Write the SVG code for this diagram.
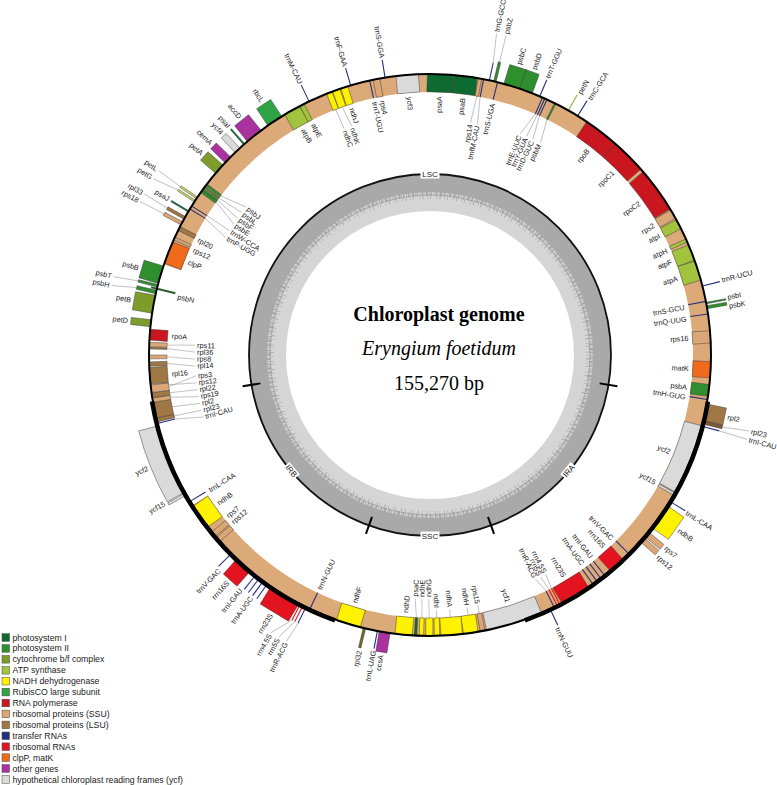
<svg xmlns="http://www.w3.org/2000/svg" width="777" height="785" viewBox="0 0 777 785">
<style>
.G rect,.G path{stroke:#3a3a3a;stroke-width:.45}
.ps1{fill:#0d6b32}.ps2{fill:#2f8f2e}.cyt{fill:#7d9c2c}.atp{fill:#a2c43c}.ndh{fill:#fff200}.rbc{fill:#2ea447}.rpo{fill:#c9161f}.ssu{fill:#dba776}.lsu{fill:#a07846}.trna{fill:#25307f}.rrna{fill:#e3131f}.clp{fill:#f06a1c}.oth{fill:#a9329e}.ycf{fill:#dadada}
.tl line{stroke:#25307f;stroke-width:1.1}
.rl line{stroke:#e3131f;stroke-width:1.1}
.ld line{stroke:#8a8a8a;stroke-width:.5}
.lbl text{font-family:"Liberation Sans",Arial,sans-serif;font-size:7.3px;fill:#1a1a1a;dominant-baseline:central}
.s{text-anchor:start}.e{text-anchor:end}
.rg text{font-family:"Liberation Sans",Arial,sans-serif;font-size:8px;fill:#222;text-anchor:middle;dominant-baseline:central}
.leg text{font-family:"Liberation Sans",Arial,sans-serif;font-size:8.7px;fill:#222;dominant-baseline:central}
.leg rect{stroke:#444;stroke-width:.5}
.ttl{font-family:"Liberation Serif","Times New Roman",serif;font-size:20px;fill:#000;text-anchor:middle}
</style>
<rect width="777" height="785" fill="#fff"/>

<g id="gc-ring" transform="translate(430 355)">
<circle r="162.5" fill="none" stroke="#d5d5d5" stroke-width="37"/>
<circle r="172" fill="none" stroke="#a9a9a9" stroke-width="18"/>
<circle r="161.5" fill="none" stroke="#a9a9a9" stroke-width="5" stroke-dasharray="0.8 1.1 1.6 0.6 0.4 1.5 2.3 0.9 0.6 0.8 1.4 1.9"/>
<circle r="157.5" fill="none" stroke="#ababab" stroke-width="3" stroke-dasharray="0.6 2.8 1 4.1 0.5 2.2 0.8 5"/>
<circle r="160" fill="none" stroke="#8f8f8f" stroke-width="0.5"/>
<circle r="181" fill="none" stroke="#111" stroke-width="1.8"/>
<g stroke="#000" stroke-width="2">
<line y1="-172" y2="-190" transform="rotate(99.5)"/>
<line y1="-172" y2="-190" transform="rotate(160.3)"/>
<line y1="-172" y2="-190" transform="rotate(199.7)"/>
<line y1="-172" y2="-190" transform="rotate(260.5)"/>
</g>
<g class="rg">
<g transform="translate(0 -181)"><rect x="-9.5" y="-4.5" width="19" height="9" fill="#fff"/><text>LSC</text></g>
<g transform="translate(0 181)"><rect x="-9.5" y="-4.5" width="19" height="9" fill="#fff"/><text>SSC</text></g>
<g transform="rotate(129.9) translate(0 -181) rotate(180)"><rect x="-8" y="-4.5" width="16" height="9" fill="#fff"/><text>IRA</text></g>
<g transform="rotate(230.1) translate(0 -181) rotate(180)"><rect x="-8" y="-4.5" width="16" height="9" fill="#fff"/><text>IRB</text></g>
</g>
</g>

<g id="title">
<text class="ttl" x="439" y="321" font-weight="bold">Chloroplast genome</text>
<text class="ttl" x="439" y="355" font-style="italic">Eryngium foetidum</text>
<text class="ttl" x="439" y="390">155,270 bp</text>
</g>

<g id="genes" class="G" transform="translate(430 355)">
<circle id="inner-band" r="272" fill="none" stroke="#dcaa78" stroke-width="18" stroke-dasharray="1465.96 243.07" transform="rotate(198.8)"/>
<!-- inner genes -->
<rect class="ps1" x="-12.83" y="-281" width="25.65" height="18" transform="rotate(2.1)"/>
<rect class="ps1" x="-11.76" y="-281" width="23.51" height="18" transform="rotate(7.275)"/>
<rect class="ssu" x="-1.67" y="-281" width="3.33" height="18" transform="rotate(10.25)"/>
<rect class="ps2" x="-0.75" y="-281" width="1.5" height="18" transform="rotate(26.45)"/>
<path class="rpo" d="M-18.13-280.42A281 281 0 0 1 18.13-280.42L16.97-262.45A263 263 0 0 0-16.97-262.45Z" transform="rotate(37.6)"/>
<path class="rpo" d="M-17.89-280.43A281 281 0 0 1 17.89-280.43L16.74-262.47A263 263 0 0 0-16.74-262.47Z" transform="rotate(44.95)"/>
<path class="rpo" d="M-23.02-280.06A281 281 0 0 1 23.02-280.06L21.55-262.12A263 263 0 0 0-21.55-262.12Z" transform="rotate(54)"/>
<rect class="ssu" x="-4.75" y="-281" width="9.5" height="18" transform="rotate(59.9)"/>
<rect class="atp" x="-4.99" y="-281" width="9.98" height="18" transform="rotate(62.25)"/>
<rect class="atp" x="-1.67" y="-281" width="3.33" height="18" transform="rotate(65.95)"/>
<rect class="atp" x="-8.08" y="-281" width="16.15" height="18" transform="rotate(68.6)"/>
<rect class="atp" x="-9.98" y="-281" width="19.95" height="18" transform="rotate(72.5)"/>
<rect class="ssu" x="-6.18" y="-281" width="12.35" height="18" transform="rotate(86.3)"/>
<rect class="clp" x="-8.08" y="-281" width="16.15" height="18" transform="rotate(93)"/>
<rect class="ps2" x="-5.94" y="-281" width="11.88" height="18" transform="rotate(97.25)"/>
<path class="ycf" d="M-35.71-278.72A281 281 0 0 1 35.71-278.72L33.42-260.87A263 263 0 0 0-33.42-260.87Z" transform="rotate(111.9)"/>
<rect class="ycf" x="-1.2" y="-281" width="2.4" height="18" transform="rotate(119.65)"/>
<rect class="rrna" x="-8.55" y="-281" width="17.1" height="18" transform="rotate(138.4)"/>
<rect class="rrna" x="-15.44" y="-281" width="30.88" height="18" transform="rotate(148.85)"/>
<path class="ycf" d="M-28.88-279.51A281 281 0 0 1 28.88-279.51L27.03-261.61A263 263 0 0 0-27.03-261.61Z" transform="rotate(162.5)"/>
<rect class="ssu" x="-2.38" y="-281" width="4.75" height="18" transform="rotate(169.2)"/>
<rect class="ndh" x="-7.37" y="-281" width="14.73" height="18" transform="rotate(171.65)"/>
<rect class="ndh" x="-10.69" y="-281" width="21.38" height="18" transform="rotate(175.55)"/>
<rect class="ndh" x="-2.62" y="-281" width="5.23" height="18" transform="rotate(178.55)"/>
<rect class="ndh" x="-3.57" y="-281" width="7.13" height="18" transform="rotate(180.15)"/>
<rect class="ndh" x="-2.14" y="-281" width="4.28" height="18" transform="rotate(181.75)"/>
<rect class="ps1" x="-1.2" y="-281" width="2.4" height="18" transform="rotate(182.95)"/>
<rect class="ndh" x="-8.55" y="-281" width="17.1" height="18" transform="rotate(185.4)"/>
<rect class="ndh" x="-12.35" y="-281" width="24.7" height="18" transform="rotate(196.9)"/>
<rect class="ssu" x="-2.62" y="-281" width="5.23" height="18" transform="rotate(228.95)"/>
<rect class="ssu" x="-2.85" y="-281" width="5.7" height="18" transform="rotate(230.4)"/>
<rect class="ndh" x="-12.59" y="-281" width="25.18" height="18" transform="rotate(234.85)"/>
<rect class="lsu" x="-1.9" y="-281" width="3.8" height="18" transform="rotate(256.6)"/>
<rect class="lsu" x="-7.84" y="-281" width="15.68" height="18" transform="rotate(258.65)"/>
<rect class="ssu" x="-2.14" y="-281" width="4.28" height="18" transform="rotate(260.75)"/>
<rect class="lsu" x="-2.62" y="-281" width="5.23" height="18" transform="rotate(261.75)"/>
<rect class="ssu" x="-3.8" y="-281" width="7.6" height="18" transform="rotate(263.1)"/>
<rect class="lsu" x="-8.32" y="-281" width="16.63" height="18" transform="rotate(265.75)"/>
<rect class="lsu" x="-2.14" y="-281" width="4.28" height="18" transform="rotate(268.15)"/>
<rect class="ssu" x="-1.9" y="-281" width="3.8" height="18" transform="rotate(269.6)"/>
<rect class="lsu" x="-0.85" y="-281" width="1.7" height="18" transform="rotate(271.4)"/>
<rect class="ssu" x="-2.14" y="-281" width="4.28" height="18" transform="rotate(272.15)"/>
<rect class="rpo" x="-5.47" y="-281" width="10.93" height="18" transform="rotate(274.15)"/>
<rect class="clp" x="-11.4" y="-281" width="22.8" height="18" transform="rotate(291.4)"/>
<rect class="ssu" x="-1.43" y="-281" width="2.85" height="18" transform="rotate(294.5)"/>
<rect class="lsu" x="-2.14" y="-281" width="4.28" height="18" transform="rotate(296.75)"/>
<rect class="ps2" x="-1.43" y="-281" width="2.85" height="18" transform="rotate(305.6)"/>
<rect class="ps2" x="-0.95" y="-281" width="1.9" height="18" transform="rotate(306.1)"/>
<rect class="ps2" x="-0.72" y="-281" width="1.43" height="18" transform="rotate(306.65)"/>
<rect class="ps2" x="-1.19" y="-281" width="2.38" height="18" transform="rotate(307.25)"/>
<rect class="atp" x="-8.55" y="-281" width="17.1" height="18" transform="rotate(330.6)"/>
<rect class="atp" x="-2.38" y="-281" width="4.75" height="18" transform="rotate(332.9)"/>
<rect class="ndh" x="-2.85" y="-281" width="5.7" height="18" transform="rotate(339)"/>
<rect class="ndh" x="-3.8" y="-281" width="7.6" height="18" transform="rotate(340.5)"/>
<rect class="ndh" x="-3.57" y="-281" width="7.13" height="18" transform="rotate(342.25)"/>
<rect class="ssu" x="-3.33" y="-281" width="6.65" height="18" transform="rotate(349)"/>
<rect class="ycf" x="-11.17" y="-281" width="22.33" height="18" transform="rotate(355.35)"/>
<!-- outer genes -->
<rect class="ps2" x="-1.25" y="-301" width="2.5" height="20" transform="rotate(13.35)"/>
<rect class="ps2" x="-8.89" y="-301" width="17.78" height="20" transform="rotate(17.05)"/>
<rect class="ps2" x="-6.86" y="-301" width="13.72" height="20" transform="rotate(19.95)"/>
<rect class="ps2" x="-0.75" y="-301" width="1.5" height="20" transform="rotate(79.35)"/>
<rect class="ps2" x="-1.5" y="-301" width="3" height="20" transform="rotate(80.2)"/>
<rect class="lsu" x="-8.64" y="-301" width="17.27" height="20" transform="rotate(101.8)"/>
<rect class="lsu" x="-1.78" y="-301" width="3.56" height="20" transform="rotate(103.85)" style="fill:#7e5b36"/>
<rect class="ndh" x="-13.46" y="-301" width="26.92" height="20" transform="rotate(125.15)"/>
<rect class="ssu" x="-3.05" y="-301" width="6.1" height="20" transform="rotate(129.6)"/>
<rect class="ssu" x="-2.8" y="-301" width="5.59" height="20" transform="rotate(131.05)"/>
<rect class="oth" x="-5.59" y="-301" width="11.18" height="20" transform="rotate(189.3)"/>
<rect class="lsu" x="-1.25" y="-301" width="2.5" height="20" transform="rotate(193.5)" style="fill:#6f6a2a"/>
<rect class="rrna" x="-16.5" y="-301" width="33" height="20" transform="rotate(211.15)"/>
<rect class="rrna" x="-9.15" y="-301" width="18.29" height="20" transform="rotate(221.6)"/>
<rect class="ycf" x="-1.25" y="-301" width="2.5" height="20" transform="rotate(240.35)"/>
<path class="ycf" d="M-38.25-298.56A301 301 0 0 1 38.25-298.56L35.71-278.72A281 281 0 0 0-35.71-278.72Z" transform="rotate(248.1)"/>
<rect class="cyt" x="-3.56" y="-301" width="7.11" height="20" transform="rotate(276.5)"/>
<rect class="cyt" x="-9.15" y="-301" width="18.29" height="20" transform="rotate(280.4)"/>
<rect class="ps2" x="-1.78" y="-301" width="3.56" height="20" transform="rotate(282.95)"/>
<rect class="ps2" x="-1.25" y="-301" width="2.5" height="20" transform="rotate(284.25)"/>
<rect class="ps2" x="-9.15" y="-301" width="18.29" height="20" transform="rotate(286.6)"/>
<rect class="ssu" x="-1.78" y="-301" width="3.56" height="20" transform="rotate(297.95)"/>
<rect class="lsu" x="-1.5" y="-301" width="3" height="20" transform="rotate(299.2)"/>
<rect class="ps1" x="-0.75" y="-301" width="1.5" height="20" transform="rotate(300.75)"/>
<rect class="cyt" x="-1" y="-301" width="2" height="20" transform="rotate(303.2)" style="fill:#c5d96a"/>
<rect class="cyt" x="-1" y="-301" width="2" height="20" transform="rotate(304)" style="fill:#c5d96a"/>
<rect class="cyt" x="-5.59" y="-301" width="11.18" height="20" transform="rotate(311.4)"/>
<rect class="oth" x="-4.07" y="-301" width="8.13" height="20" transform="rotate(314)"/>
<rect class="ycf" x="-3.3" y="-301" width="6.6" height="20" transform="rotate(316.75)"/>
<rect class="ps1" x="-0.75" y="-301" width="1.5" height="20" transform="rotate(318.6)"/>
<rect class="oth" x="-8.89" y="-301" width="17.78" height="20" transform="rotate(321.25)"/>
<rect class="rbc" x="-8.38" y="-301" width="16.76" height="20" transform="rotate(326.45)"/>
<line y1="-262" y2="-287" transform="rotate(283.65)" stroke="#2b5e2b" stroke-width="2"/>
<line y1="-281" y2="-299" transform="rotate(29.5)" stroke="#9ab83a" stroke-width="1.2"/>
</g>

<g id="trna" class="tl" transform="translate(430 355)">
<line y1="-263" y2="-281" transform="rotate(11)"/>
<line y1="-263" y2="-281" transform="rotate(13.9)"/>
<line y1="-263" y2="-281" transform="rotate(23.6)"/>
<line y1="-263" y2="-281" transform="rotate(24.1)"/>
<line y1="-263" y2="-281" transform="rotate(24.6)"/>
<line y1="-263" y2="-281" transform="rotate(79)"/>
<line y1="-263" y2="-281" transform="rotate(81.6)"/>
<line y1="-263" y2="-281" transform="rotate(99.1)"/>
<line y1="-263" y2="-281" transform="rotate(135)"/>
<line y1="-263" y2="-281" transform="rotate(141.6)"/>
<line y1="-263" y2="-281" transform="rotate(142.6)"/>
<line y1="-263" y2="-281" transform="rotate(143.6)"/>
<line y1="-263" y2="-281" transform="rotate(144.6)"/>
<line y1="-263" y2="-281" transform="rotate(153.8)"/>
<line y1="-263" y2="-281" transform="rotate(205.3)"/>
<line y1="-263" y2="-281" transform="rotate(238.6)"/>
<line y1="-263" y2="-281" transform="rotate(255.9)"/>
<line y1="-263" y2="-281" transform="rotate(301.3)"/>
<line y1="-263" y2="-281" transform="rotate(302)"/>
<line y1="-263" y2="-281" transform="rotate(347.6)"/>
<line y1="-281" y2="-299" transform="rotate(12.2)"/>
<line y1="-281" y2="-299" transform="rotate(23)"/>
<line y1="-281" y2="-299" transform="rotate(31.7)"/>
<line y1="-281" y2="-299" transform="rotate(75.8)"/>
<line y1="-281" y2="-299" transform="rotate(104.7)"/>
<line y1="-281" y2="-299" transform="rotate(121.4)"/>
<line y1="-281" y2="-299" transform="rotate(154.7)"/>
<line y1="-281" y2="-299" transform="rotate(190.8)"/>
<line y1="-281" y2="-299" transform="rotate(206.2)"/>
<line y1="-281" y2="-299" transform="rotate(215.4)"/>
<line y1="-281" y2="-299" transform="rotate(216.4)"/>
<line y1="-281" y2="-299" transform="rotate(217.4)"/>
<line y1="-281" y2="-299" transform="rotate(218.4)"/>
<line y1="-281" y2="-299" transform="rotate(225)"/>
<line y1="-281" y2="-299" transform="rotate(334.5)"/>
<line y1="-281" y2="-299" transform="rotate(343.6)"/>
<line y1="-281" y2="-299" transform="rotate(350.8)"/>
</g>
<g id="rrna-small" class="rl" transform="translate(430 355)">
<line y1="-263" y2="-281" transform="rotate(152.5)"/>
<line y1="-263" y2="-281" transform="rotate(153.1)"/>
<line y1="-281" y2="-299" transform="rotate(206.9)"/>
<line y1="-281" y2="-299" transform="rotate(207.5)"/>
</g>

<g id="backbone" transform="translate(430 355)" fill="none" stroke="#000">
<circle r="281" stroke-width="2"/>
<circle r="281.8" stroke-width="4.5" stroke-dasharray="299.04 1471.56" transform="rotate(9.5)"/>
<circle r="281.8" stroke-width="4.5" stroke-dasharray="299.04 1471.56" transform="rotate(109.7)"/>
</g>

<g id="connectors" class="ld" transform="translate(430 355)">
<line transform="rotate(10.25)" y1="-263" x2="-1.44" y2="-236"/>
<line transform="rotate(11)" y1="-263" x2="2.47" y2="-236"/>
<line transform="rotate(23.6)" y1="-263" x2="-5.84" y2="-238.9"/>
<line transform="rotate(24.1)" y1="-263" x2="-1.25" y2="-239"/>
<line transform="rotate(24.6)" y1="-263" x2="3.75" y2="-239"/>
<line transform="rotate(26.45)" y1="-263" x2="4.38" y2="-239"/>
<line transform="rotate(152.5)" y1="-263" x2="-1.3" y2="-248"/>
<line transform="rotate(153.1)" y1="-263" x2="1.73" y2="-248"/>
<line transform="rotate(153.8)" y1="-263" x2="4.33" y2="-248"/>
<line transform="rotate(169.2)" y1="-263" y2="-255"/>
<line transform="rotate(171.65)" y1="-263" y2="-255"/>
<line transform="rotate(175.55)" y1="-263" y2="-255"/>
<line transform="rotate(178.55)" y1="-263" y2="-255"/>
<line transform="rotate(182.95)" y1="-263" x2="2.34" y2="-244"/>
<line transform="rotate(181.75)" y1="-263" x2="0.64" y2="-244"/>
<line transform="rotate(180.15)" y1="-263" x2="0.64" y2="-244"/>
<line transform="rotate(307.25)" y1="-263" x2="6.38" y2="-235.9"/>
<line transform="rotate(306.65)" y1="-263" x2="1.85" y2="-236"/>
<line transform="rotate(306.1)" y1="-263" x2="-2.88" y2="-236"/>
<line transform="rotate(305.6)" y1="-263" x2="-7.83" y2="-235.9"/>
<line transform="rotate(302)" y1="-263" x2="-0.82" y2="-236"/>
<line transform="rotate(301.3)" y1="-263" x2="-5.77" y2="-235.9"/>
<line transform="rotate(340.5)" y1="-263" x2="2.53" y2="-242"/>
<line transform="rotate(339)" y1="-263" x2="0.85" y2="-242"/>
<line transform="rotate(272.15)" y1="-263" x2="1.03" y2="-235"/>
<line transform="rotate(271.4)" y1="-263" x2="-2.87" y2="-235"/>
<line transform="rotate(269.6)" y1="-263" x2="-2.46" y2="-235"/>
<line transform="rotate(268.15)" y1="-263" x2="-3.49" y2="-235"/>
<line transform="rotate(263.1)" y1="-263" x2="7.38" y2="-234.9"/>
<line transform="rotate(263.5)" y1="-263" x2="-1.23" y2="-235"/>
<line transform="rotate(261.75)" y1="-263" x2="-1.03" y2="-235"/>
<line transform="rotate(260.75)" y1="-263" x2="-3.9" y2="-235"/>
<line transform="rotate(258.65)" y1="-263" x2="-2.26" y2="-235"/>
<line transform="rotate(256.6)" y1="-263" x2="-0.82" y2="-235"/>
<line transform="rotate(255.9)" y1="-263" x2="-4.92" y2="-234.9"/>
<line transform="rotate(12.2)" y1="-299" x2="-2.86" y2="-328"/>
<line transform="rotate(13.35)" y1="-301" x2="0.29" y2="-328"/>
<line transform="rotate(103.85)" y1="-301" x2="-2.58" y2="-328"/>
<line transform="rotate(104.7)" y1="-299" x2="1.14" y2="-328"/>
<line transform="rotate(207.5)" y1="-299" x2="12.85" y2="-319.7"/>
<line transform="rotate(206.9)" y1="-299" x2="7.26" y2="-319.9"/>
<line transform="rotate(206.2)" y1="-299" x2="2.23" y2="-320"/>
<line transform="rotate(284.25)" y1="-301" x2="-1.99" y2="-326"/>
<line transform="rotate(282.95)" y1="-301" x2="-3.7" y2="-326"/>
<line transform="rotate(297.95)" y1="-301" x2="-0.29" y2="-328"/>
<line transform="rotate(299.2)" y1="-301" x2="1.14" y2="-328"/>
<line transform="rotate(303.2)" y1="-301" x2="-4.01" y2="-328"/>
<line transform="rotate(304)" y1="-301" x2="1.14" y2="-328"/>
</g>

<g id="labels" class="lbl" transform="translate(430 355)">
<text class="s" x="304" transform="rotate(-73)">psbC</text>
<text class="s" x="304" transform="rotate(-70)">psbD</text>
<text class="s" x="304" transform="rotate(11.8)">rpl2</text>
<text class="s" x="304" transform="rotate(35.2)">ndhB</text>
<text class="s" x="304" transform="rotate(39.3)">rps7</text>
<text class="s" x="304" transform="rotate(41.5)">rps12</text>
<text class="s" x="301" transform="rotate(-67)">trnT-GGU</text>
<text class="s" x="301" transform="rotate(-60.2)">petN</text>
<text class="s" x="301" transform="rotate(-58)">trnC-GCA</text>
<text class="s" x="301" transform="rotate(-14.4)">trnR-UCU</text>
<text class="s" x="301" transform="rotate(31.6)">trnL-CAA</text>
<text class="s" x="301" transform="rotate(65)">trnN-GUU</text>
<text class="s" x="303" transform="rotate(-11)">psbI</text>
<text class="s" x="303" transform="rotate(-9.3)">psbK</text>
<text class="s" x="330" transform="rotate(-78.3)">trnG-GCC</text>
<text class="s" x="330" transform="rotate(-76.6)">psbZ</text>
<text class="s" x="330" transform="rotate(13.4)">rpl23</text>
<text class="s" x="330" transform="rotate(14.9)">trnI-CAU</text>

<text class="e" x="259" transform="rotate(-87.9)">psaA</text>
<text class="e" x="259" transform="rotate(-82.7)">psaB</text>
<text class="e" x="259" transform="rotate(-76)">trnS-UGA</text>
<text class="e" x="259" transform="rotate(-52.4)">rpoB</text>
<text class="e" x="259" transform="rotate(-45)">rpoC1</text>
<text class="e" x="259" transform="rotate(-36)">rpoC2</text>
<text class="e" x="259" transform="rotate(-30.1)">rps2</text>
<text class="e" x="259" transform="rotate(-27.5)">atpI</text>
<text class="e" x="259" transform="rotate(-23.8)">atpH</text>
<text class="e" x="259" transform="rotate(-21.1)">atpF</text>
<text class="e" x="259" transform="rotate(-17.2)">atpA</text>
<text class="e" x="259" transform="rotate(-10.6)">trnS-GCU</text>
<text class="e" x="259" transform="rotate(-8)">trnQ-UUG</text>
<text class="e" x="259" transform="rotate(-3.7)">rps16</text>
<text class="e" x="259" transform="rotate(3)">matK</text>
<text class="e" x="259" transform="rotate(7.2)">psbA</text>
<text class="e" x="259" transform="rotate(9.4)">trnH-GUG</text>
<text class="e" x="259" transform="rotate(22)">ycf2</text>
<text class="e" x="259" transform="rotate(29.6)">ycf15</text>
<text class="e" x="259" transform="rotate(45.3)">trnV-GAC</text>
<text class="e" x="259" transform="rotate(47.8)">rrn16S</text>
<text class="e" x="259" transform="rotate(51.4)">trnI-GAU</text>
<text class="e" x="259" transform="rotate(53.9)">trnA-UGC</text>
<text class="e" x="259" transform="rotate(58.8)">rrn23S</text>
<text class="e" x="259" transform="rotate(72.5)">ycf1</text>
<text class="e" x="234" transform="rotate(-80.1)">rps14</text>
<text class="e" x="234" transform="rotate(-78.4)">trnfM-CAU</text>
<text class="e" x="237" transform="rotate(-67.8)">trnE-UUC</text>
<text class="e" x="237" transform="rotate(-66.2)">trnY-GUA</text>
<text class="e" x="237" transform="rotate(-64.5)">trnD-GUC</text>
<text class="e" x="237" transform="rotate(-62.5)">psbM</text>
<text class="e" x="246" transform="rotate(62.2)">rrn4.5S</text>
<text class="e" x="246" transform="rotate(63.5)">rrn5S</text>
<text class="e" x="246" transform="rotate(64.8)">trnR-ACG</text>
<text class="e" x="253" transform="rotate(79.2)">rps15</text>
<text class="e" x="253" transform="rotate(81.65)">ndhH</text>
<text class="e" x="253" transform="rotate(85.55)">ndhA</text>
<text class="e" x="253" transform="rotate(88.55)">ndhI</text>

<text class="e" x="-304" transform="rotate(279.3)">ccsA</text>
<text class="e" x="-304" transform="rotate(283.4)">rpl32</text>
<text class="e" x="-304" transform="rotate(301.5)">rrn23S</text>
<text class="e" x="-304" transform="rotate(311.7)">rrn16S</text>
<text class="e" x="-304" transform="rotate(330.8)">ycf15</text>
<text class="e" x="-304" transform="rotate(338.1)">ycf2</text>
<text class="e" x="-304" transform="rotate(366.5)">petD</text>
<text class="e" x="-304" transform="rotate(370.4)">petB</text>
<text class="e" x="-304" transform="rotate(376.6)">psbB</text>
<text class="e" x="-304" transform="rotate(390.8)">psaJ</text>
<text class="e" x="-304" transform="rotate(401.4)">petA</text>
<text class="e" x="-304" transform="rotate(404)">cemA</text>
<text class="e" x="-304" transform="rotate(406.8)">ycf4</text>
<text class="e" x="-304" transform="rotate(408.6)">psaI</text>
<text class="e" x="-304" transform="rotate(411.3)">accD</text>
<text class="e" x="-304" transform="rotate(416.5)">rbcL</text>
<text class="e" x="-301" transform="rotate(280.8)">trnL-UAG</text>
<text class="e" x="-301" transform="rotate(306.4)">trnA-UGC</text>
<text class="e" x="-301" transform="rotate(308.9)">trnI-GAU</text>
<text class="e" x="-301" transform="rotate(314.4)">trnV-GAC</text>
<text class="e" x="-301" transform="rotate(424.5)">trnM-CAU</text>
<text class="e" x="-301" transform="rotate(433.6)">trnF-GAA</text>
<text class="e" x="-301" transform="rotate(440.8)">trnS-GGA</text>
<text class="e" x="-322" transform="rotate(299.8)">rrn4.5S</text>
<text class="e" x="-322" transform="rotate(298.2)">rrn5S</text>
<text class="e" x="-322" transform="rotate(296.6)">trnR-ACG</text>
<text class="e" x="-328" transform="rotate(373.9)">psbT</text>
<text class="e" x="-328" transform="rotate(372.3)">psbH</text>
<text class="e" x="-330" transform="rotate(387.9)">rps18</text>
<text class="e" x="-330" transform="rotate(389.4)">rpl33</text>
<text class="e" x="-330" transform="rotate(392.5)">petG</text>
<text class="e" x="-330" transform="rotate(394.2)">petL</text>

<text class="s" x="-259" transform="rotate(275.4)">ndhD</text>
<text class="s" x="-259" transform="rotate(286.9)">ndhF</text>
<text class="s" x="-259" transform="rotate(295.3)">trnN-GUU</text>
<text class="s" x="-259" transform="rotate(319.7)">rps12</text>
<text class="s" x="-259" transform="rotate(321.5)">rps7</text>
<text class="s" x="-259" transform="rotate(325)">ndhB</text>
<text class="s" x="-259" transform="rotate(328.5)">trnL-CAA</text>
<text class="s" x="-259" transform="rotate(355.8)">rpl16</text>
<text class="s" x="-259" transform="rotate(364.2)">rpoA</text>
<text class="s" x="-259" transform="rotate(373)">psbN</text>
<text class="s" x="-259" transform="rotate(381)">clpP</text>
<text class="s" x="-259" transform="rotate(383.9)">rps12</text>
<text class="s" x="-259" transform="rotate(386.4)">rpl20</text>
<text class="s" x="-259" transform="rotate(420.6)">atpB</text>
<text class="s" x="-259" transform="rotate(423.2)">atpE</text>
<text class="s" x="-259" transform="rotate(432.4)">ndhJ</text>
<text class="s" x="-259" transform="rotate(437.6)">trnT-UGU</text>
<text class="s" x="-259" transform="rotate(439.4)">rps4</text>
<text class="s" x="-259" transform="rotate(445.4)">ycf3</text>
<text class="s" x="-242" transform="rotate(273.5)">psaC</text>
<text class="s" x="-242" transform="rotate(271.9)">ndhE</text>
<text class="s" x="-242" transform="rotate(270.3)">ndhG</text>
<text class="s" x="-234" transform="rotate(398.8)">psbJ</text>
<text class="s" x="-234" transform="rotate(397.1)">psbL</text>
<text class="s" x="-234" transform="rotate(395.4)">psbF</text>
<text class="s" x="-234" transform="rotate(393.7)">psbE</text>
<text class="s" x="-234" transform="rotate(391.8)">trnW-CCA</text>
<text class="s" x="-234" transform="rotate(389.9)">trnP-UGG</text>
<text class="s" x="-240" transform="rotate(431.1)">ndhK</text>
<text class="s" x="-240" transform="rotate(429.2)">ndhC</text>
<text class="s" x="-233" transform="rotate(362.4)">rps11</text>
<text class="s" x="-233" transform="rotate(360.7)">rpl36</text>
<text class="s" x="-233" transform="rotate(359)">rps8</text>
<text class="s" x="-233" transform="rotate(357.3)">rpl14</text>
<text class="s" x="-233" transform="rotate(354.9)">rps3</text>
<text class="s" x="-233" transform="rotate(353.2)">rps12</text>
<text class="s" x="-233" transform="rotate(351.5)">rpl22</text>
<text class="s" x="-233" transform="rotate(349.8)">rps19</text>
<text class="s" x="-233" transform="rotate(348.1)">rpl2</text>
<text class="s" x="-233" transform="rotate(346.4)">rpl23</text>
<text class="s" x="-233" transform="rotate(344.7)">trnI-CAU</text>
</g>

<g id="legend" class="leg">
<rect class="ps1" x="2" y="633.7" width="7.5" height="7.6"/><text x="12.5" y="637.5">photosystem I</text>
<rect class="ps2" x="2" y="644.6" width="7.5" height="7.6"/><text x="12.5" y="648.4">photosystem II</text>
<rect class="cyt" x="2" y="655.5" width="7.5" height="7.6"/><text x="12.5" y="659.3">cytochrome b/f complex</text>
<rect class="atp" x="2" y="666.5" width="7.5" height="7.6"/><text x="12.5" y="670.3">ATP synthase</text>
<rect class="ndh" x="2" y="677.4" width="7.5" height="7.6"/><text x="12.5" y="681.2">NADH dehydrogenase</text>
<rect class="rbc" x="2" y="688.3" width="7.5" height="7.6"/><text x="12.5" y="692.1">RubisCO large subunit</text>
<rect class="rpo" x="2" y="699.2" width="7.5" height="7.6"/><text x="12.5" y="703">RNA polymerase</text>
<rect class="ssu" x="2" y="710.1" width="7.5" height="7.6"/><text x="12.5" y="713.9">ribosomal proteins (SSU)</text>
<rect class="lsu" x="2" y="721.1" width="7.5" height="7.6"/><text x="12.5" y="724.9">ribosomal proteins (LSU)</text>
<rect class="trna" x="2" y="732" width="7.5" height="7.6"/><text x="12.5" y="735.8">transfer RNAs</text>
<rect class="rrna" x="2" y="742.9" width="7.5" height="7.6"/><text x="12.5" y="746.7">ribosomal RNAs</text>
<rect class="clp" x="2" y="753.8" width="7.5" height="7.6"/><text x="12.5" y="757.6">clpP, matK</text>
<rect class="oth" x="2" y="764.7" width="7.5" height="7.6"/><text x="12.5" y="768.5">other genes</text>
<rect class="ycf" x="2" y="775.7" width="7.5" height="7.6"/><text x="12.5" y="779.5">hypothetical chloroplast reading frames (ycf)</text>
</g>
</svg>
